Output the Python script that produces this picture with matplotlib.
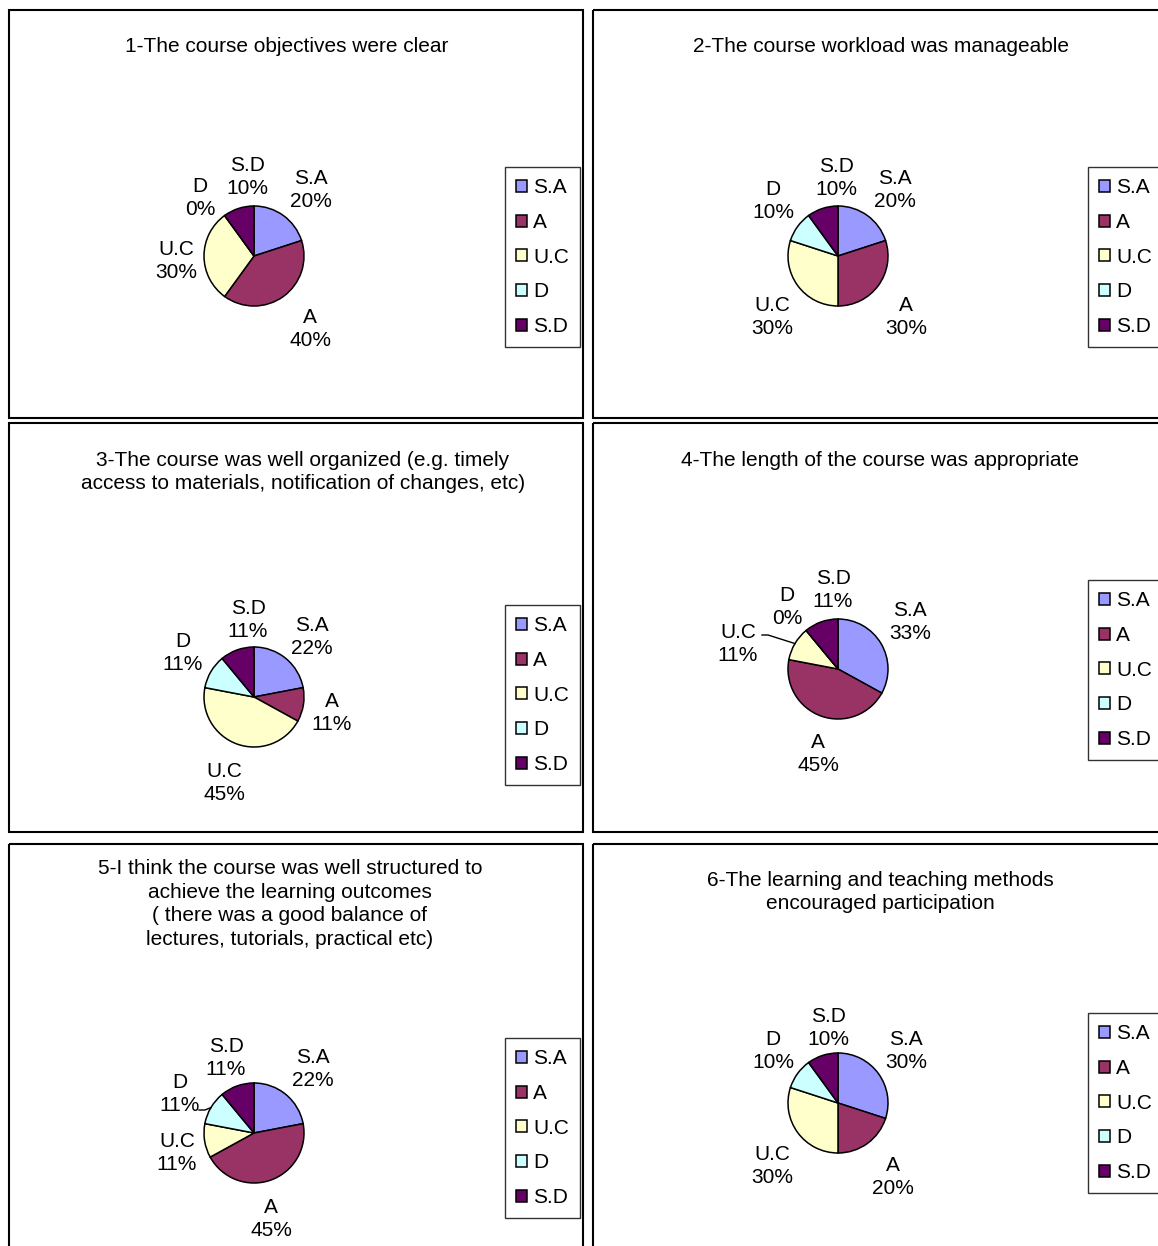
import matplotlib
matplotlib.use('Agg')
import numpy as np
import matplotlib.pyplot as plt
from matplotlib.patches import Rectangle

plt.rcParams['font.family'] = ['Liberation Sans', 'DejaVu Sans']

W, H = 1158, 1246

categories = ['S.A', 'A', 'U.C', 'D', 'S.D']
colors = ['#9999FF', '#993366', '#FFFFCC', '#CCFFFF', '#660066']

titles = [
    '1-The course objectives were clear',
    '2-The course workload was manageable',
    '3-The course was well organized (e.g. timely\naccess to materials, notification of changes, etc)',
    '4-The length of the course was appropriate',
    '5-I think the course was well structured to\nachieve the learning outcomes\n( there was a good balance of\nlectures, tutorials, practical etc)',
    '6-The learning and teaching methods\nencouraged participation',
]

# percentages per question, order S.A, A, U.C, D, S.D
q1 = [20, 40, 30, 0, 10]
q2 = [20, 30, 30, 10, 10]
q3 = [22, 11, 45, 11, 11]
q4 = [33, 45, 11, 0, 11]
q5 = [22, 45, 11, 11, 11]
q6 = [30, 20, 30, 10, 10]
values = [q1, q2, q3, q4, q5, q6]

# ---- layout (pixels) ----
boxes = [(9, 10, 583, 418), (593, 10, 1175, 418),
         (9, 423, 583, 832), (593, 423, 1175, 832),
         (9, 844, 583, 1260), (593, 844, 1175, 1260)]
title_xy = [(287, 46), (881, 46), (303, 472), (880, 461), (290, 904), (880, 892)]
pie_c = [(254, 256), (838, 256), (254, 697), (838, 669), (254, 1133), (838, 1103)]
legend_xy = [(505, 167), (1088, 167), (505, 605), (1088, 580), (505, 1038), (1088, 1013)]
R = 50  # pie radius in px

# label centres in pie-radius units, per category
label_xy = [
    [(1.14, 1.32), (1.12, -1.46), (-1.56, -0.10), (-1.08, 1.16), (-0.14, 1.58)],
    [(1.14, 1.32), (1.36, -1.22), (-1.32, -1.22), (-1.30, 1.10), (-0.04, 1.56)],
    [(1.16, 1.20), (1.56, -0.32), (-0.60, -1.72), (-1.42, 0.88), (-0.12, 1.54)],
    [(1.44, 0.94), (-0.40, -1.70), (-2.00, 0.50), (-1.02, 1.24), (-0.10, 1.58)],
    [(1.18, 1.28), (0.34, -1.72), (-1.54, -0.40), (-1.48, 0.78), (-0.56, 1.50)],
    [(1.36, 1.04), (1.10, -1.48), (-1.32, -1.26), (-1.30, 1.04), (-0.20, 1.50)],
]
# leader lines: panel -> (category index, start point)
leaders = {3: (2, (-1.52, 0.68)), 4: (3, (-1.10, 0.46))}

FS = 15

fig = plt.figure(figsize=(W / 100, H / 100), dpi=100)
bg = fig.add_axes([0, 0, 1, 1])
bg.set_xlim(0, W)
bg.set_ylim(H, 0)
bg.axis('off')

for i in range(6):
    x0, y0, x1, y1 = boxes[i]
    bg.add_patch(Rectangle((x0, y0), x1 - x0, y1 - y0, fill=False,
                           edgecolor='black', lw=1.5))
    bg.text(title_xy[i][0], title_xy[i][1], titles[i], ha='center', va='center',
            fontsize=FS, linespacing=1.32)

    cx, cy = pie_c[i]
    S = 300
    ax = fig.add_axes([(cx - S / 2) / W, 1 - (cy + S / 2) / H, S / W, S / H])
    ax.set_aspect('equal')
    ax.axis('off')
    wedges, _ = ax.pie(values[i], colors=colors, startangle=90, counterclock=False,
                       radius=1, wedgeprops=dict(edgecolor='black', linewidth=1.1))
    ax.set_xlim(-S / 2 / R, S / 2 / R)
    ax.set_ylim(-S / 2 / R, S / 2 / R)

    for j, cat in enumerate(categories):
        lx, ly = label_xy[i][j]
        ax.text(lx, ly, f'{cat}\n{values[i][j]}%', ha='center', va='center',
                fontsize=FS, linespacing=1.25, clip_on=False)

    if i in leaders:
        j, (sx, sy) = leaders[i]
        w = wedges[j]
        mid = np.deg2rad((w.theta1 + w.theta2) / 2)
        ex, ey = np.cos(mid), np.sin(mid)
        ax.plot([sx, sx + 0.12, ex], [sy, sy, ey], color='black', lw=1, clip_on=False)

    lx, ly = legend_xy[i]
    leg = ax.legend(wedges, categories, loc='upper left',
                    bbox_to_anchor=(lx / W, 1 - ly / H), bbox_transform=fig.transFigure,
                    fontsize=FS, frameon=True, fancybox=False, shadow=False,
                    handlelength=0.5, handleheight=0.5, handletextpad=0.3,
                    labelspacing=0.75, borderpad=0.55, borderaxespad=0)
    leg.get_frame().set_edgecolor('black')
    leg.get_frame().set_linewidth(1.0)

fig.savefig('out.png', dpi=100)
